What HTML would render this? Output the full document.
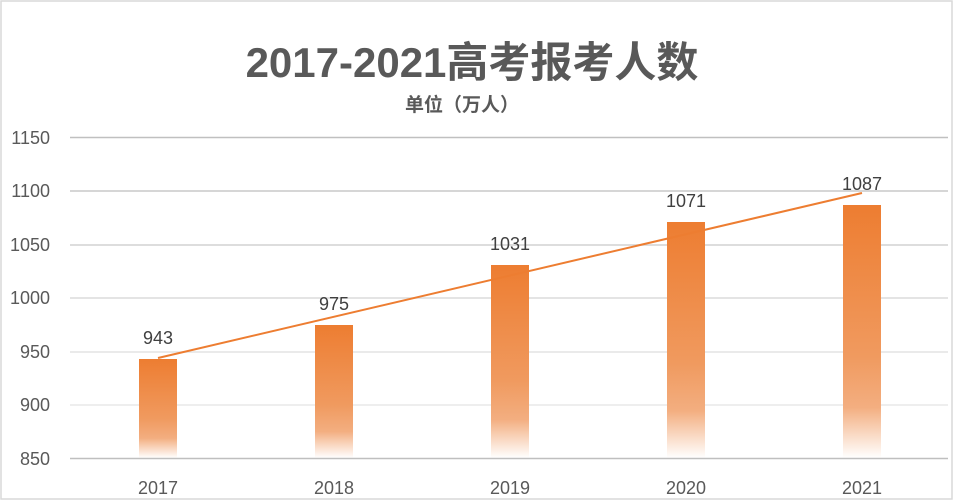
<!DOCTYPE html>
<html><head><meta charset="utf-8"><style>
body{margin:0;background:#fff}
svg{display:block;font-family:"Liberation Sans","Noto Sans CJK SC",sans-serif}
</style></head><body>
<svg width="954" height="501" viewBox="0 0 954 501">
<defs>
<linearGradient id="g" x1="0" y1="0" x2="0" y2="1">
<stop offset="0" stop-color="#ED7D31"/>
<stop offset="0.6" stop-color="#F09A5F"/>
<stop offset="0.8" stop-color="#F3AE80"/>
<stop offset="1" stop-color="#ffffff"/>
</linearGradient>
</defs>
<rect x="1" y="1" width="951" height="498" fill="#fff" stroke="#d9d9d9" stroke-width="1.5"/>
<text x="472" y="77" text-anchor="middle" font-size="42" font-weight="bold" fill="#595959">2017-2021高考报考人数</text>
<text x="462" y="111" text-anchor="middle" font-size="19" font-weight="bold" fill="#595959">单位（万人）</text>
<g stroke-width="1.5">
<line x1="70" x2="948" y1="137.5" y2="137.5" stroke="#c0c0c0"/>
<line x1="70" x2="948" y1="191" y2="191" stroke="#c8c8c8"/>
<line x1="70" x2="948" y1="245" y2="245" stroke="#d2d2d2"/>
<line x1="70" x2="948" y1="298" y2="298" stroke="#dcdcdc"/>
<line x1="70" x2="948" y1="352" y2="352" stroke="#e4e4e4"/>
<line x1="70" x2="948" y1="405" y2="405" stroke="#e8e8e8"/>
</g>
<g fill="url(#g)">
<rect x="139" y="359" width="38" height="99"/>
<rect x="315" y="325" width="38" height="133"/>
<rect x="491" y="265" width="38" height="193"/>
<rect x="667" y="222" width="38" height="236"/>
<rect x="843" y="205" width="38" height="253"/>
</g>
<line x1="70" x2="948" y1="458.5" y2="458.5" stroke="#bfbfbf" stroke-width="1.5"/>
<line x1="158" y1="358" x2="862" y2="193" stroke="#ED7D31" stroke-width="2"/>
<g font-size="18" fill="#404040" text-anchor="middle">
<text x="158" y="344">943</text>
<text x="334" y="310">975</text>
<text x="510" y="250">1031</text>
<text x="686" y="207">1071</text>
<text x="862" y="190">1087</text>
</g>
<g font-size="18" fill="#595959" text-anchor="end">
<text x="50" y="144">1150</text>
<text x="50" y="197">1100</text>
<text x="50" y="251">1050</text>
<text x="50" y="304">1000</text>
<text x="50" y="358">950</text>
<text x="50" y="411">900</text>
<text x="50" y="465">850</text>
</g>
<g font-size="18" fill="#595959" text-anchor="middle">
<text x="158" y="494">2017</text>
<text x="334" y="494">2018</text>
<text x="510" y="494">2019</text>
<text x="686" y="494">2020</text>
<text x="862" y="494">2021</text>
</g>
</svg>
</body></html>
